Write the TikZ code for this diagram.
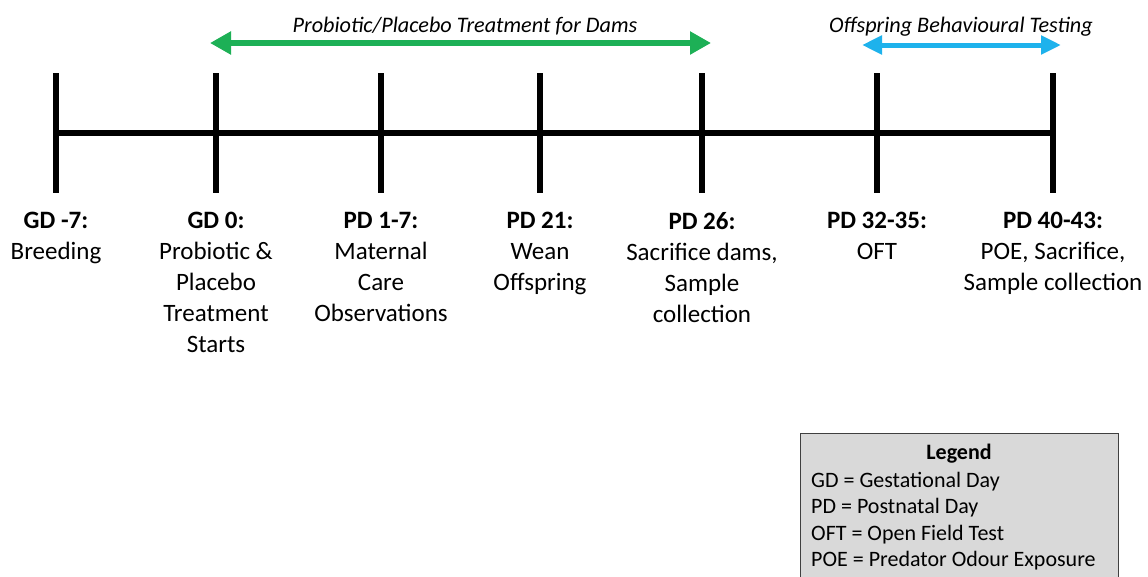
\documentclass[tikz,border=0pt]{standalone}
\usepackage{fontspec}
\setmainfont{Carlito}
\usetikzlibrary{arrows.meta}
\definecolor{tgreen}{HTML}{1DB056}
\definecolor{tblue}{HTML}{1EB2EC}
\definecolor{legfill}{HTML}{D9D9D9}
\definecolor{legdraw}{HTML}{404040}
\begin{document}
\begin{tikzpicture}[x=1pt,y=-1pt,
  axis/.style={line width=6pt},
  tickline/.style={line width=6pt},
  lbl/.style={anchor=north, align=center, inner sep=0pt, font=\fontsize{25}{31}\selectfont},
  ttl/.style={anchor=base, inner sep=0pt, font=\fontsize{22.2}{26}\selectfont\itshape},
  garrow/.style={line width=6pt, tgreen, {Triangle[width=22pt,length=21pt]}-{Triangle[width=22pt,length=21pt]}},
  barrow/.style={line width=5pt, tblue, {Triangle[width=18pt,length=20pt]}-{Triangle[width=18pt,length=20pt]}},
  legbox/.style={draw=legdraw, line width=1.2pt, fill=legfill, anchor=north west, inner sep=0pt, minimum width=318pt, minimum height=160pt},
  legtxt/.style={anchor=base west, inner sep=0pt, font=\fontsize{22}{26}\selectfont},
]
\clip (0,0) rectangle (1148,576);
\fill[white] (0,0) rectangle (1148,576);
\foreach \i/\x in {1/56,2/216,3/381,4/540,5/702,6/877,7/1053}{
  \coordinate (t\i) at (\x,133);
  \coordinate (ta\i) at (\x,73);
  \coordinate (tb\i) at (\x,193);
  \draw[tickline] (ta\i) -- (tb\i);
}
\draw[axis] (t1) -- (t7);

\node[lbl] (l1) at (56,212) {\textbf{GD -7:}\\Breeding};
\node[lbl] (l2) at (216,212) {\textbf{GD 0:}\\Probiotic \&\\Placebo\\Treatment\\Starts};
\node[lbl] (l3) at (381,212) {\textbf{PD 1-7:}\\Maternal\\Care\\Observations};
\node[lbl] (l4) at (540,212) {\textbf{PD 21:}\\Wean\\Offspring};
\node[lbl] (l5) at (702,212) {\textbf{PD 26:}\\Sacrifice dams,\\Sample\\collection};
\node[lbl] (l6) at (877,212) {\textbf{PD 32-35:}\\OFT};
\node[lbl] (l7) at (1053,212) {\textbf{PD 40-43:}\\POE, Sacrifice,\\Sample collection};

\coordinate (ga) at (210,43);
\coordinate (gb) at (711,43);
\draw[garrow] (ga) -- (gb);
\node[ttl] (gt) at (465,32) {Probiotic/Placebo Treatment for Dams};

\coordinate (ba) at (862,45);
\coordinate (bb) at (1061,45);
\draw[barrow] (ba) -- (bb);
\node[ttl] (bt) at (961,32) {Offspring Behavioural Testing};

\node[legbox] (leg) at (800,433) {};
\node[anchor=base, inner sep=0pt, font=\fontsize{22}{26}\selectfont\bfseries] (legt) at (959,459) {Legend};
\node[legtxt] (lg1) at (811,487) {GD = Gestational Day};
\node[legtxt] (lg2) at (811,513) {PD = Postnatal Day};
\node[legtxt] (lg3) at (811,540) {OFT = Open Field Test};
\node[legtxt] (lg4) at (811,566) {POE = Predator Odour Exposure};
\end{tikzpicture}
\end{document}
